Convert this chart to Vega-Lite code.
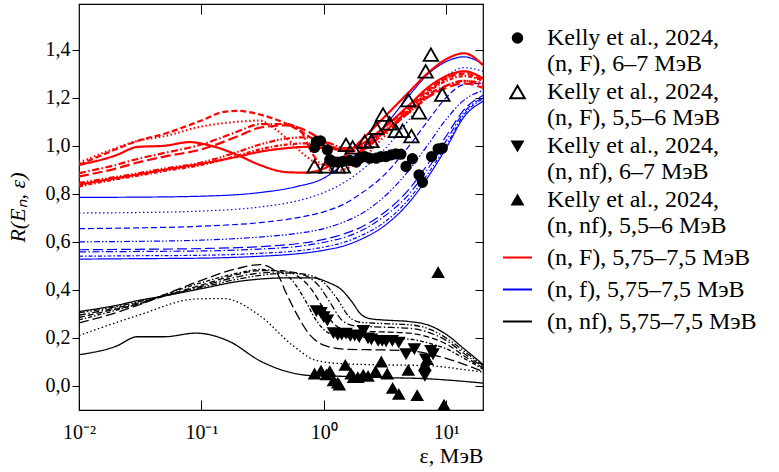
{
"$schema": "https://vega.github.io/schema/vega-lite/v6.json",
"width": 404, "height": 406,
"autosize": {"type": "none"},
"padding": {"left": 79, "top": 4, "right": 296, "bottom": 62},
"background": "white",
"config": {
  "view": {"stroke": "black", "strokeWidth": 1.2},
  "font": "Liberation Serif",
  "axis": {"domain": false, "grid": false, "tickColor": "black", "tickWidth": 1, "labelColor": "black", "labelFont": "Liberation Serif", "labelFontSize": 20, "titleFont": "Liberation Serif", "titleFontSize": 22, "titleColor": "black", "titleFontWeight": "normal"},
  "legend": {"orient": "none", "legendX": 423, "legendY": 22, "labelFont": "Liberation Serif", "labelFontSize": 24, "labelColor": "black", "labelLimit": 400, "labelOffset": 14, "symbolStrokeWidth": 2, "rowPadding": 4, "labelBaseline": "top", "symbolOffset": 0, "padding": 0}
},
"datasets": {
  "groups": [
    {"g": "F", "series": "(n, F), 5,75–7,5 МэВ"},
    {"g": "f", "series": "(n, f), 5,75–7,5 МэВ"},
    {"g": "nf", "series": "(n, nf), 5,75–7,5 МэВ"},
    {"g": "k1", "series": "Kelly et al., 2024, (n, F), 6–7 МэВ"},
    {"g": "k2", "series": "Kelly et al., 2024, (n, F), 5,5–6 МэВ"},
    {"g": "k3", "series": "Kelly et al., 2024, (n, nf), 6–7 МэВ"},
    {"g": "k4", "series": "Kelly et al., 2024, (n, nf), 5,5–6 МэВ"}
  ],
  "curves": [
{"g":"f","c":1,"e":0.01,"r":0.785},{"g":"f","c":1,"e":0.03,"r":0.786},{"g":"f","c":1,"e":0.1,"r":0.79},{"g":"f","c":1,"e":0.3,"r":0.805},{"g":"f","c":1,"e":0.6,"r":0.83},{"g":"f","c":1,"e":1,"r":0.865},{"g":"f","c":1,"e":1.5,"r":0.93},{"g":"f","c":1,"e":2,"r":0.98},{"g":"f","c":1,"e":3,"r":1.07},{"g":"f","c":1,"e":5,"r":1.21},{"g":"f","c":1,"e":7,"r":1.295},{"g":"f","c":1,"e":10,"r":1.35},{"g":"f","c":1,"e":14,"r":1.37},{"g":"f","c":1,"e":20,"r":1.34},
{"g":"f","c":2,"e":0.01,"r":0.72},{"g":"f","c":2,"e":0.03,"r":0.722},{"g":"f","c":2,"e":0.1,"r":0.728},{"g":"f","c":2,"e":0.3,"r":0.745},{"g":"f","c":2,"e":0.6,"r":0.77},{"g":"f","c":2,"e":1,"r":0.805},{"g":"f","c":2,"e":1.5,"r":0.85},{"g":"f","c":2,"e":2,"r":0.895},{"g":"f","c":2,"e":3,"r":0.975},{"g":"f","c":2,"e":5,"r":1.11},{"g":"f","c":2,"e":7,"r":1.21},{"g":"f","c":2,"e":10,"r":1.29},{"g":"f","c":2,"e":14,"r":1.325},{"g":"f","c":2,"e":20,"r":1.31},
{"g":"f","c":3,"e":0.01,"r":0.655},{"g":"f","c":3,"e":0.03,"r":0.658},{"g":"f","c":3,"e":0.1,"r":0.665},{"g":"f","c":3,"e":0.3,"r":0.68},{"g":"f","c":3,"e":0.6,"r":0.7},{"g":"f","c":3,"e":1,"r":0.725},{"g":"f","c":3,"e":1.5,"r":0.76},{"g":"f","c":3,"e":2,"r":0.8},{"g":"f","c":3,"e":3,"r":0.87},{"g":"f","c":3,"e":5,"r":1.0},{"g":"f","c":3,"e":7,"r":1.1},{"g":"f","c":3,"e":10,"r":1.2},{"g":"f","c":3,"e":14,"r":1.255},{"g":"f","c":3,"e":20,"r":1.26},
{"g":"f","c":4,"e":0.01,"r":0.6},{"g":"f","c":4,"e":0.03,"r":0.602},{"g":"f","c":4,"e":0.1,"r":0.607},{"g":"f","c":4,"e":0.3,"r":0.62},{"g":"f","c":4,"e":0.6,"r":0.635},{"g":"f","c":4,"e":1,"r":0.655},{"g":"f","c":4,"e":1.5,"r":0.685},{"g":"f","c":4,"e":2,"r":0.715},{"g":"f","c":4,"e":3,"r":0.78},{"g":"f","c":4,"e":5,"r":0.9},{"g":"f","c":4,"e":7,"r":1.0},{"g":"f","c":4,"e":10,"r":1.11},{"g":"f","c":4,"e":14,"r":1.19},{"g":"f","c":4,"e":20,"r":1.23},
{"g":"f","c":5,"e":0.01,"r":0.567},{"g":"f","c":5,"e":0.03,"r":0.569},{"g":"f","c":5,"e":0.1,"r":0.572},{"g":"f","c":5,"e":0.3,"r":0.58},{"g":"f","c":5,"e":0.6,"r":0.592},{"g":"f","c":5,"e":1,"r":0.61},{"g":"f","c":5,"e":1.5,"r":0.635},{"g":"f","c":5,"e":2,"r":0.66},{"g":"f","c":5,"e":3,"r":0.715},{"g":"f","c":5,"e":5,"r":0.82},{"g":"f","c":5,"e":7,"r":0.92},{"g":"f","c":5,"e":10,"r":1.04},{"g":"f","c":5,"e":14,"r":1.15},{"g":"f","c":5,"e":20,"r":1.21},
{"g":"f","c":6,"e":0.01,"r":0.558},{"g":"f","c":6,"e":0.03,"r":0.56},{"g":"f","c":6,"e":0.1,"r":0.562},{"g":"f","c":6,"e":0.3,"r":0.57},{"g":"f","c":6,"e":0.6,"r":0.58},{"g":"f","c":6,"e":1,"r":0.598},{"g":"f","c":6,"e":1.5,"r":0.62},{"g":"f","c":6,"e":2,"r":0.645},{"g":"f","c":6,"e":3,"r":0.7},{"g":"f","c":6,"e":5,"r":0.8},{"g":"f","c":6,"e":7,"r":0.9},{"g":"f","c":6,"e":10,"r":1.02},{"g":"f","c":6,"e":14,"r":1.14},{"g":"f","c":6,"e":20,"r":1.2},
{"g":"f","c":7,"e":0.01,"r":0.54},{"g":"f","c":7,"e":0.03,"r":0.542},{"g":"f","c":7,"e":0.1,"r":0.544},{"g":"f","c":7,"e":0.3,"r":0.552},{"g":"f","c":7,"e":0.6,"r":0.562},{"g":"f","c":7,"e":1,"r":0.578},{"g":"f","c":7,"e":1.5,"r":0.6},{"g":"f","c":7,"e":2,"r":0.625},{"g":"f","c":7,"e":3,"r":0.675},{"g":"f","c":7,"e":5,"r":0.78},{"g":"f","c":7,"e":7,"r":0.88},{"g":"f","c":7,"e":10,"r":1.0},{"g":"f","c":7,"e":14,"r":1.13},{"g":"f","c":7,"e":20,"r":1.195},
{"g":"f","c":8,"e":0.01,"r":0.528},{"g":"f","c":8,"e":0.03,"r":0.53},{"g":"f","c":8,"e":0.1,"r":0.532},{"g":"f","c":8,"e":0.3,"r":0.54},{"g":"f","c":8,"e":0.6,"r":0.55},{"g":"f","c":8,"e":1,"r":0.565},{"g":"f","c":8,"e":1.5,"r":0.585},{"g":"f","c":8,"e":2,"r":0.61},{"g":"f","c":8,"e":3,"r":0.66},{"g":"f","c":8,"e":5,"r":0.765},{"g":"f","c":8,"e":7,"r":0.865},{"g":"f","c":8,"e":10,"r":0.99},{"g":"f","c":8,"e":14,"r":1.12},{"g":"f","c":8,"e":20,"r":1.185},

{"g":"F","c":1,"e":0.01,"r":0.92},{"g":"F","c":1,"e":0.02,"r":0.96},{"g":"F","c":1,"e":0.03,"r":0.995},{"g":"F","c":1,"e":0.05,"r":1.0},{"g":"F","c":1,"e":0.08,"r":1.015},{"g":"F","c":1,"e":0.12,"r":1.0},{"g":"F","c":1,"e":0.2,"r":0.96},{"g":"F","c":1,"e":0.3,"r":0.92},{"g":"F","c":1,"e":0.5,"r":0.89},{"g":"F","c":1,"e":0.7,"r":0.888},{"g":"F","c":1,"e":1,"r":0.905},{"g":"F","c":1,"e":1.5,"r":0.96},{"g":"F","c":1,"e":2,"r":1.02},{"g":"F","c":1,"e":3,"r":1.11},{"g":"F","c":1,"e":5,"r":1.225},{"g":"F","c":1,"e":7,"r":1.3},{"g":"F","c":1,"e":10,"r":1.36},{"g":"F","c":1,"e":14,"r":1.385},{"g":"F","c":1,"e":20,"r":1.335},
{"g":"F","c":3,"e":0.01,"r":0.92},{"g":"F","c":3,"e":0.02,"r":0.985},{"g":"F","c":3,"e":0.03,"r":1.02},{"g":"F","c":3,"e":0.05,"r":1.05},{"g":"F","c":3,"e":0.1,"r":1.105},{"g":"F","c":3,"e":0.15,"r":1.14},{"g":"F","c":3,"e":0.2,"r":1.145},{"g":"F","c":3,"e":0.3,"r":1.13},{"g":"F","c":3,"e":0.5,"r":1.09},{"g":"F","c":3,"e":0.7,"r":1.05},{"g":"F","c":3,"e":1,"r":1.0},{"g":"F","c":3,"e":1.5,"r":0.98},{"g":"F","c":3,"e":2,"r":1.0},{"g":"F","c":3,"e":3,"r":1.07},{"g":"F","c":3,"e":5,"r":1.16},{"g":"F","c":3,"e":7,"r":1.23},{"g":"F","c":3,"e":10,"r":1.28},{"g":"F","c":3,"e":14,"r":1.3},{"g":"F","c":3,"e":20,"r":1.27},
{"g":"F","c":2,"e":0.01,"r":0.93},{"g":"F","c":2,"e":0.02,"r":0.99},{"g":"F","c":2,"e":0.03,"r":1.02},{"g":"F","c":2,"e":0.05,"r":1.04},{"g":"F","c":2,"e":0.1,"r":1.08},{"g":"F","c":2,"e":0.2,"r":1.1},{"g":"F","c":2,"e":0.3,"r":1.105},{"g":"F","c":2,"e":0.4,"r":1.07},{"g":"F","c":2,"e":0.5,"r":1.03},{"g":"F","c":2,"e":0.7,"r":0.96},{"g":"F","c":2,"e":1,"r":0.91},{"g":"F","c":2,"e":1.25,"r":0.895},{"g":"F","c":2,"e":2,"r":0.94},{"g":"F","c":2,"e":3,"r":1.03},{"g":"F","c":2,"e":5,"r":1.15},{"g":"F","c":2,"e":7,"r":1.22},{"g":"F","c":2,"e":10,"r":1.28},{"g":"F","c":2,"e":14,"r":1.31},{"g":"F","c":2,"e":20,"r":1.28},
{"g":"F","c":6,"e":0.01,"r":0.886},{"g":"F","c":6,"e":0.02,"r":0.92},{"g":"F","c":6,"e":0.03,"r":0.945},{"g":"F","c":6,"e":0.05,"r":0.97},{"g":"F","c":6,"e":0.1,"r":1.005},{"g":"F","c":6,"e":0.2,"r":1.06},{"g":"F","c":6,"e":0.3,"r":1.09},{"g":"F","c":6,"e":0.5,"r":1.09},{"g":"F","c":6,"e":0.65,"r":1.06},{"g":"F","c":6,"e":0.8,"r":0.97},{"g":"F","c":6,"e":0.95,"r":0.925},{"g":"F","c":6,"e":1.2,"r":0.915},{"g":"F","c":6,"e":1.6,"r":0.94},{"g":"F","c":6,"e":2,"r":0.975},{"g":"F","c":6,"e":3,"r":1.05},{"g":"F","c":6,"e":5,"r":1.15},{"g":"F","c":6,"e":7,"r":1.21},{"g":"F","c":6,"e":10,"r":1.25},{"g":"F","c":6,"e":14,"r":1.27},{"g":"F","c":6,"e":20,"r":1.25},
{"g":"F","c":5,"e":0.01,"r":0.872},{"g":"F","c":5,"e":0.02,"r":0.905},{"g":"F","c":5,"e":0.03,"r":0.93},{"g":"F","c":5,"e":0.05,"r":0.955},{"g":"F","c":5,"e":0.1,"r":0.985},{"g":"F","c":5,"e":0.2,"r":1.04},{"g":"F","c":5,"e":0.3,"r":1.075},{"g":"F","c":5,"e":0.5,"r":1.085},{"g":"F","c":5,"e":0.7,"r":1.065},{"g":"F","c":5,"e":1,"r":1.02},{"g":"F","c":5,"e":1.5,"r":0.975},{"g":"F","c":5,"e":2,"r":0.98},{"g":"F","c":5,"e":3,"r":1.045},{"g":"F","c":5,"e":5,"r":1.14},{"g":"F","c":5,"e":7,"r":1.2},{"g":"F","c":5,"e":10,"r":1.24},{"g":"F","c":5,"e":14,"r":1.26},{"g":"F","c":5,"e":20,"r":1.24},
{"g":"F","c":4,"e":0.01,"r":0.845},{"g":"F","c":4,"e":0.02,"r":0.87},{"g":"F","c":4,"e":0.03,"r":0.885},{"g":"F","c":4,"e":0.05,"r":0.905},{"g":"F","c":4,"e":0.1,"r":0.93},{"g":"F","c":4,"e":0.2,"r":0.975},{"g":"F","c":4,"e":0.3,"r":1.005},{"g":"F","c":4,"e":0.5,"r":1.03},{"g":"F","c":4,"e":0.7,"r":1.035},{"g":"F","c":4,"e":1,"r":1.02},{"g":"F","c":4,"e":1.5,"r":0.99},{"g":"F","c":4,"e":2,"r":0.99},{"g":"F","c":4,"e":3,"r":1.05},{"g":"F","c":4,"e":5,"r":1.14},{"g":"F","c":4,"e":7,"r":1.2},{"g":"F","c":4,"e":10,"r":1.25},{"g":"F","c":4,"e":14,"r":1.27},{"g":"F","c":4,"e":20,"r":1.26},
{"g":"F","c":7,"e":0.01,"r":0.831},{"g":"F","c":7,"e":0.02,"r":0.86},{"g":"F","c":7,"e":0.03,"r":0.875},{"g":"F","c":7,"e":0.05,"r":0.895},{"g":"F","c":7,"e":0.1,"r":0.92},{"g":"F","c":7,"e":0.2,"r":0.96},{"g":"F","c":7,"e":0.3,"r":0.985},{"g":"F","c":7,"e":0.5,"r":1.005},{"g":"F","c":7,"e":0.7,"r":1.01},{"g":"F","c":7,"e":1,"r":1.0},{"g":"F","c":7,"e":1.5,"r":0.985},{"g":"F","c":7,"e":2,"r":0.995},{"g":"F","c":7,"e":3,"r":1.055},{"g":"F","c":7,"e":5,"r":1.15},{"g":"F","c":7,"e":7,"r":1.22},{"g":"F","c":7,"e":10,"r":1.27},{"g":"F","c":7,"e":14,"r":1.29},{"g":"F","c":7,"e":20,"r":1.27},
{"g":"F","c":8,"e":0.01,"r":0.838},{"g":"F","c":8,"e":0.02,"r":0.865},{"g":"F","c":8,"e":0.03,"r":0.88},{"g":"F","c":8,"e":0.05,"r":0.9},{"g":"F","c":8,"e":0.1,"r":0.925},{"g":"F","c":8,"e":0.2,"r":0.955},{"g":"F","c":8,"e":0.3,"r":0.975},{"g":"F","c":8,"e":0.5,"r":0.99},{"g":"F","c":8,"e":0.7,"r":0.995},{"g":"F","c":8,"e":1,"r":0.99},{"g":"F","c":8,"e":1.5,"r":0.985},{"g":"F","c":8,"e":2,"r":1.005},{"g":"F","c":8,"e":3,"r":1.07},{"g":"F","c":8,"e":5,"r":1.17},{"g":"F","c":8,"e":7,"r":1.24},{"g":"F","c":8,"e":10,"r":1.29},{"g":"F","c":8,"e":14,"r":1.31},{"g":"F","c":8,"e":20,"r":1.28},

{"g":"nf","c":1,"e":0.01,"r":0.31},{"g":"nf","c":1,"e":0.02,"r":0.335},{"g":"nf","c":1,"e":0.03,"r":0.355},{"g":"nf","c":1,"e":0.05,"r":0.375},{"g":"nf","c":1,"e":0.1,"r":0.405},{"g":"nf","c":1,"e":0.2,"r":0.435},{"g":"nf","c":1,"e":0.3,"r":0.445},{"g":"nf","c":1,"e":0.5,"r":0.45},{"g":"nf","c":1,"e":0.8,"r":0.45},{"g":"nf","c":1,"e":1.1,"r":0.43},{"g":"nf","c":1,"e":1.4,"r":0.4},{"g":"nf","c":1,"e":1.7,"r":0.35},{"g":"nf","c":1,"e":2,"r":0.3},{"g":"nf","c":1,"e":2.4,"r":0.28},{"g":"nf","c":1,"e":3,"r":0.275},{"g":"nf","c":1,"e":5,"r":0.268},{"g":"nf","c":1,"e":7,"r":0.255},{"g":"nf","c":1,"e":10,"r":0.215},{"g":"nf","c":1,"e":14,"r":0.155},{"g":"nf","c":1,"e":20,"r":0.09},
{"g":"nf","c":4,"e":0.01,"r":0.305},{"g":"nf","c":4,"e":0.02,"r":0.33},{"g":"nf","c":4,"e":0.03,"r":0.35},{"g":"nf","c":4,"e":0.05,"r":0.375},{"g":"nf","c":4,"e":0.1,"r":0.41},{"g":"nf","c":4,"e":0.2,"r":0.445},{"g":"nf","c":4,"e":0.3,"r":0.46},{"g":"nf","c":4,"e":0.5,"r":0.47},{"g":"nf","c":4,"e":0.7,"r":0.465},{"g":"nf","c":4,"e":1,"r":0.43},{"g":"nf","c":4,"e":1.3,"r":0.36},{"g":"nf","c":4,"e":1.6,"r":0.29},{"g":"nf","c":4,"e":2,"r":0.265},{"g":"nf","c":4,"e":3,"r":0.26},{"g":"nf","c":4,"e":5,"r":0.255},{"g":"nf","c":4,"e":7,"r":0.24},{"g":"nf","c":4,"e":10,"r":0.2},{"g":"nf","c":4,"e":14,"r":0.145},{"g":"nf","c":4,"e":20,"r":0.085},
{"g":"nf","c":6,"e":0.01,"r":0.295},{"g":"nf","c":6,"e":0.02,"r":0.325},{"g":"nf","c":6,"e":0.03,"r":0.345},{"g":"nf","c":6,"e":0.05,"r":0.375},{"g":"nf","c":6,"e":0.1,"r":0.415},{"g":"nf","c":6,"e":0.2,"r":0.455},{"g":"nf","c":6,"e":0.3,"r":0.47},{"g":"nf","c":6,"e":0.5,"r":0.475},{"g":"nf","c":6,"e":0.7,"r":0.46},{"g":"nf","c":6,"e":0.9,"r":0.42},{"g":"nf","c":6,"e":1.15,"r":0.34},{"g":"nf","c":6,"e":1.4,"r":0.275},{"g":"nf","c":6,"e":1.8,"r":0.25},{"g":"nf","c":6,"e":3,"r":0.245},{"g":"nf","c":6,"e":5,"r":0.24},{"g":"nf","c":6,"e":7,"r":0.225},{"g":"nf","c":6,"e":10,"r":0.19},{"g":"nf","c":6,"e":14,"r":0.135},{"g":"nf","c":6,"e":20,"r":0.08},
{"g":"nf","c":3,"e":0.01,"r":0.285},{"g":"nf","c":3,"e":0.02,"r":0.32},{"g":"nf","c":3,"e":0.03,"r":0.34},{"g":"nf","c":3,"e":0.05,"r":0.375},{"g":"nf","c":3,"e":0.1,"r":0.42},{"g":"nf","c":3,"e":0.2,"r":0.465},{"g":"nf","c":3,"e":0.3,"r":0.48},{"g":"nf","c":3,"e":0.45,"r":0.48},{"g":"nf","c":3,"e":0.6,"r":0.46},{"g":"nf","c":3,"e":0.8,"r":0.4},{"g":"nf","c":3,"e":1,"r":0.32},{"g":"nf","c":3,"e":1.2,"r":0.26},{"g":"nf","c":3,"e":1.6,"r":0.23},{"g":"nf","c":3,"e":3,"r":0.225},{"g":"nf","c":3,"e":5,"r":0.22},{"g":"nf","c":3,"e":7,"r":0.205},{"g":"nf","c":3,"e":10,"r":0.175},{"g":"nf","c":3,"e":14,"r":0.125},{"g":"nf","c":3,"e":20,"r":0.075},
{"g":"nf","c":7,"e":0.01,"r":0.275},{"g":"nf","c":7,"e":0.02,"r":0.315},{"g":"nf","c":7,"e":0.03,"r":0.34},{"g":"nf","c":7,"e":0.05,"r":0.38},{"g":"nf","c":7,"e":0.1,"r":0.43},{"g":"nf","c":7,"e":0.2,"r":0.47},{"g":"nf","c":7,"e":0.3,"r":0.485},{"g":"nf","c":7,"e":0.4,"r":0.48},{"g":"nf","c":7,"e":0.55,"r":0.44},{"g":"nf","c":7,"e":0.7,"r":0.36},{"g":"nf","c":7,"e":0.85,"r":0.28},{"g":"nf","c":7,"e":1.1,"r":0.22},{"g":"nf","c":7,"e":1.5,"r":0.205},{"g":"nf","c":7,"e":3,"r":0.2},{"g":"nf","c":7,"e":5,"r":0.195},{"g":"nf","c":7,"e":7,"r":0.18},{"g":"nf","c":7,"e":10,"r":0.155},{"g":"nf","c":7,"e":14,"r":0.115},{"g":"nf","c":7,"e":20,"r":0.07},
{"g":"nf","c":5,"e":0.01,"r":0.262},{"g":"nf","c":5,"e":0.02,"r":0.305},{"g":"nf","c":5,"e":0.03,"r":0.335},{"g":"nf","c":5,"e":0.05,"r":0.38},{"g":"nf","c":5,"e":0.1,"r":0.44},{"g":"nf","c":5,"e":0.2,"r":0.49},{"g":"nf","c":5,"e":0.3,"r":0.505},{"g":"nf","c":5,"e":0.4,"r":0.48},{"g":"nf","c":5,"e":0.5,"r":0.38},{"g":"nf","c":5,"e":0.6,"r":0.3},{"g":"nf","c":5,"e":0.75,"r":0.22},{"g":"nf","c":5,"e":1,"r":0.17},{"g":"nf","c":5,"e":1.5,"r":0.153},{"g":"nf","c":5,"e":3,"r":0.15},{"g":"nf","c":5,"e":5,"r":0.147},{"g":"nf","c":5,"e":7,"r":0.135},{"g":"nf","c":5,"e":10,"r":0.115},{"g":"nf","c":5,"e":14,"r":0.09},{"g":"nf","c":5,"e":20,"r":0.06},
{"g":"nf","c":2,"e":0.01,"r":0.21},{"g":"nf","c":2,"e":0.03,"r":0.293},{"g":"nf","c":2,"e":0.09,"r":0.362},{"g":"nf","c":2,"e":0.15,"r":0.364},{"g":"nf","c":2,"e":0.3,"r":0.293},{"g":"nf","c":2,"e":0.56,"r":0.168},{"g":"nf","c":2,"e":0.87,"r":0.106},{"g":"nf","c":2,"e":1.5,"r":0.092},{"g":"nf","c":2,"e":3,"r":0.088},{"g":"nf","c":2,"e":7,"r":0.085},{"g":"nf","c":2,"e":10,"r":0.078},{"g":"nf","c":2,"e":15,"r":0.066},{"g":"nf","c":2,"e":20,"r":0.058},
{"g":"nf","c":8,"e":0.01,"r":0.13},{"g":"nf","c":8,"e":0.02,"r":0.165},{"g":"nf","c":8,"e":0.03,"r":0.205},{"g":"nf","c":8,"e":0.05,"r":0.205},{"g":"nf","c":8,"e":0.09,"r":0.22},{"g":"nf","c":8,"e":0.17,"r":0.185},{"g":"nf","c":8,"e":0.3,"r":0.105},{"g":"nf","c":8,"e":0.5,"r":0.06},{"g":"nf","c":8,"e":0.8,"r":0.043},{"g":"nf","c":8,"e":1.5,"r":0.04},{"g":"nf","c":8,"e":3,"r":0.035},{"g":"nf","c":8,"e":7,"r":0.03},{"g":"nf","c":8,"e":12,"r":0.022},{"g":"nf","c":8,"e":20,"r":0.012}
  ],
  "exp": [
{"g":"k1","e":0.87,"r":1.017},{"g":"k1","e":0.94,"r":1.02},{"g":"k1","e":0.84,"r":0.993},{"g":"k1","e":1.07,"r":0.983},{"g":"k1","e":1.12,"r":0.942},{"g":"k1","e":1.18,"r":0.935},{"g":"k1","e":1.3,"r":0.932},{"g":"k1","e":1.43,"r":0.935},{"g":"k1","e":1.63,"r":0.939},{"g":"k1","e":1.84,"r":0.932},{"g":"k1","e":1.97,"r":0.948},{"g":"k1","e":2.16,"r":0.955},{"g":"k1","e":2.37,"r":0.948},{"g":"k1","e":2.68,"r":0.948},{"g":"k1","e":2.94,"r":0.955},{"g":"k1","e":3.23,"r":0.955},{"g":"k1","e":3.55,"r":0.962},{"g":"k1","e":3.88,"r":0.966},{"g":"k1","e":4.27,"r":0.965},{"g":"k1","e":4.7,"r":0.914},{"g":"k1","e":5.3,"r":0.946},{"g":"k1","e":6.0,"r":0.879},{"g":"k1","e":6.4,"r":0.848},{"g":"k1","e":7.6,"r":0.955},{"g":"k1","e":8.6,"r":0.987},{"g":"k1","e":9.3,"r":0.99},
{"g":"k2","e":7.5,"r":1.379},{"g":"k2","e":6.8,"r":1.31},{"g":"k2","e":4.9,"r":1.19},{"g":"k2","e":6.0,"r":1.139},{"g":"k2","e":9.3,"r":1.213},{"g":"k2","e":3.05,"r":1.13},{"g":"k2","e":2.68,"r":1.075},{"g":"k2","e":3.45,"r":1.093},{"g":"k2","e":3.88,"r":1.062},{"g":"k2","e":4.4,"r":1.062},{"g":"k2","e":5.2,"r":1.04},{"g":"k2","e":2.16,"r":1.017},{"g":"k2","e":2.45,"r":1.02},{"g":"k2","e":1.52,"r":1.004},{"g":"k2","e":1.72,"r":0.993},{"g":"k2","e":0.84,"r":0.914},{"g":"k2","e":1.05,"r":0.914},{"g":"k2","e":1.3,"r":0.914},{"g":"k2","e":1.43,"r":0.914},
{"g":"k3","e":0.87,"r":0.313},{"g":"k3","e":0.95,"r":0.306},{"g":"k3","e":1.0,"r":0.288},{"g":"k3","e":1.07,"r":0.275},{"g":"k3","e":1.2,"r":0.222},{"g":"k3","e":1.3,"r":0.214},{"g":"k3","e":1.4,"r":0.216},{"g":"k3","e":1.52,"r":0.22},{"g":"k3","e":1.65,"r":0.21},{"g":"k3","e":1.79,"r":0.212},{"g":"k3","e":1.95,"r":0.205},{"g":"k3","e":2.11,"r":0.231},{"g":"k3","e":2.3,"r":0.2},{"g":"k3","e":2.45,"r":0.196},{"g":"k3","e":2.78,"r":0.19},{"g":"k3","e":3.0,"r":0.19},{"g":"k3","e":3.23,"r":0.188},{"g":"k3","e":3.63,"r":0.19},{"g":"k3","e":4.1,"r":0.182},{"g":"k3","e":4.7,"r":0.134},{"g":"k3","e":5.5,"r":0.155},{"g":"k3","e":6.8,"r":0.113},{"g":"k3","e":6.7,"r":0.044},{"g":"k3","e":7.5,"r":0.148},{"g":"k3","e":7.8,"r":0.134},
{"g":"k4","e":0.84,"r":0.05},{"g":"k4","e":0.95,"r":0.062},{"g":"k4","e":1.05,"r":0.046},{"g":"k4","e":1.12,"r":0.06},{"g":"k4","e":1.2,"r":0.022},{"g":"k4","e":1.3,"r":0.012},{"g":"k4","e":1.34,"r":0.004},{"g":"k4","e":1.5,"r":0.086},{"g":"k4","e":1.67,"r":0.05},{"g":"k4","e":1.75,"r":0.035},{"g":"k4","e":1.9,"r":0.035},{"g":"k4","e":2.1,"r":0.045},{"g":"k4","e":2.3,"r":0.04},{"g":"k4","e":2.65,"r":0.06},{"g":"k4","e":2.95,"r":0.1},{"g":"k4","e":3.3,"r":0.05},{"g":"k4","e":3.65,"r":-0.01},{"g":"k4","e":4.1,"r":-0.035},{"g":"k4","e":4.9,"r":0.065},{"g":"k4","e":5.8,"r":-0.04},{"g":"k4","e":6.7,"r":0.086},{"g":"k4","e":7.0,"r":0.11},{"g":"k4","e":8.6,"r":0.472},{"g":"k4","e":9.6,"r":-0.08}
  ]
},
"layer": [
  {
    "data": {"name": "curves"},
    "transform": [{"filter": "datum.g == 'f'"}, {"lookup": "g", "from": {"data": {"name": "groups"}, "key": "g", "fields": ["series"]}}],
    "mark": {"type": "line", "strokeWidth": 1.2, "interpolate": "monotone", "clip": true},
    "encoding": {
      "x": {"field": "e", "type": "quantitative", "scale": {"type": "log", "domain": [0.01, 20], "nice": false},
            "axis": {"orient": "bottom", "values": [0.01, 0.1, 1, 10], "tickSize": -10, "labelPadding": 22, "labelBaseline": "top",
                     "labelExpr": "datum.value < 0.05 ? '10⁻²' : datum.value < 0.5 ? '10⁻¹' : datum.value < 5 ? '10⁰' : '10¹'",
                     "title": "ε, МэВ", "titleAnchor": "end", "titlePadding": 3, "labelFlush": false}},
      "y": {"field": "r", "type": "quantitative", "scale": {"domain": [-0.1, 1.59], "nice": false, "zero": false},
            "axis": {"orient": "left", "values": [0, 0.2, 0.4, 0.6, 0.8, 1.0, 1.2, 1.4], "tickSize": 7, "labelPadding": 2,
                     "labelExpr": "replace(format(datum.value, '.1f'), '.', ',')",
                     "title": "R(Eₙ, ε)", "titleFontStyle": "italic", "titlePadding": 16}},
      "color": {"field": "series", "type": "nominal",
                "scale": {"domain": ["Kelly et al., 2024, (n, F), 6–7 МэВ", "Kelly et al., 2024, (n, F), 5,5–6 МэВ", "Kelly et al., 2024, (n, nf), 6–7 МэВ", "Kelly et al., 2024, (n, nf), 5,5–6 МэВ", "(n, F), 5,75–7,5 МэВ", "(n, f), 5,75–7,5 МэВ", "(n, nf), 5,75–7,5 МэВ"],
                          "range": ["black", "black", "black", "black", "#ff0000", "#0000ff", "black"]},
                "legend": {"title": null, "labelExpr": "split(replace(datum.label, '2024, ', '2024,|'), '|')",
                           "encode": {"labels": {"update": {"dy": {"value": -12}, "lineHeight": {"value": 26}}}}}},
      "strokeDash": {"field": "c", "type": "nominal", "scale": {"domain": [1, 2, 3, 4, 5, 6, 7, 8], "range": [[1, 0], [1.5, 2.5], [6, 3], [6, 2, 1.5, 2, 1.5, 2], [10, 4], [7, 2.5, 1.5, 2.5], [4, 2, 1.5, 2], [1, 0]]}, "legend": null}
    }
  },
  {
    "data": {"name": "curves"},
    "transform": [{"filter": "datum.g == 'nf'"}, {"lookup": "g", "from": {"data": {"name": "groups"}, "key": "g", "fields": ["series"]}}],
    "mark": {"type": "line", "strokeWidth": 1.3, "interpolate": "monotone", "clip": true},
    "encoding": {
      "x": {"field": "e", "type": "quantitative", "axis": null},
      "y": {"field": "r", "type": "quantitative", "axis": null},
      "color": {"field": "series", "type": "nominal"},
      "strokeDash": {"field": "c", "type": "nominal", "legend": null}
    }
  },
  {
    "data": {"name": "curves"},
    "transform": [{"filter": "datum.g == 'F'"}, {"lookup": "g", "from": {"data": {"name": "groups"}, "key": "g", "fields": ["series"]}}],
    "mark": {"type": "line", "strokeWidth": 2.2, "interpolate": "monotone", "clip": true},
    "encoding": {
      "x": {"field": "e", "type": "quantitative",
            "axis": {"orient": "top", "values": [0.1, 1, 10], "tickSize": -10, "labels": false, "title": null}},
      "y": {"field": "r", "type": "quantitative",
            "axis": {"orient": "right", "values": [0, 0.2, 0.4, 0.6, 0.8, 1.0, 1.2, 1.4], "tickSize": -8, "labels": false, "title": null}},
      "color": {"field": "series", "type": "nominal"},
      "strokeDash": {"field": "c", "type": "nominal", "legend": null}
    }
  },
  {
    "data": {"name": "exp"},
    "transform": [{"lookup": "g", "from": {"data": {"name": "groups"}, "key": "g", "fields": ["series"]}}],
    "mark": {"type": "point", "filled": false, "strokeWidth": 1.8, "opacity": 1, "clip": true},
    "encoding": {
      "x": {"field": "e", "type": "quantitative", "axis": null},
      "y": {"field": "r", "type": "quantitative", "axis": null},
      "color": {"field": "series", "type": "nominal"},
      "fill": {"field": "series", "type": "nominal",
               "scale": {"domain": ["Kelly et al., 2024, (n, F), 6–7 МэВ", "Kelly et al., 2024, (n, F), 5,5–6 МэВ", "Kelly et al., 2024, (n, nf), 6–7 МэВ", "Kelly et al., 2024, (n, nf), 5,5–6 МэВ", "(n, F), 5,75–7,5 МэВ", "(n, f), 5,75–7,5 МэВ", "(n, nf), 5,75–7,5 МэВ"],
                         "range": ["black", "transparent", "black", "black", "transparent", "transparent", "transparent"]}},
      "shape": {"field": "series", "type": "nominal",
                "scale": {"domain": ["Kelly et al., 2024, (n, F), 6–7 МэВ", "Kelly et al., 2024, (n, F), 5,5–6 МэВ", "Kelly et al., 2024, (n, nf), 6–7 МэВ", "Kelly et al., 2024, (n, nf), 5,5–6 МэВ", "(n, F), 5,75–7,5 МэВ", "(n, f), 5,75–7,5 МэВ", "(n, nf), 5,75–7,5 МэВ"],
                          "range": ["circle", "triangle-up", "triangle-down", "triangle-up", "stroke", "stroke", "stroke"]}},
      "size": {"field": "series", "type": "nominal",
               "scale": {"type": "ordinal", "domain": ["Kelly et al., 2024, (n, F), 6–7 МэВ", "Kelly et al., 2024, (n, F), 5,5–6 МэВ", "Kelly et al., 2024, (n, nf), 6–7 МэВ", "Kelly et al., 2024, (n, nf), 5,5–6 МэВ", "(n, F), 5,75–7,5 МэВ", "(n, f), 5,75–7,5 МэВ", "(n, nf), 5,75–7,5 МэВ"],
                         "range": [90, 210, 110, 110, 841, 841, 841]}}
    }
  }
],
"resolve": {"axis": {"x": "independent", "y": "independent"}}
}
